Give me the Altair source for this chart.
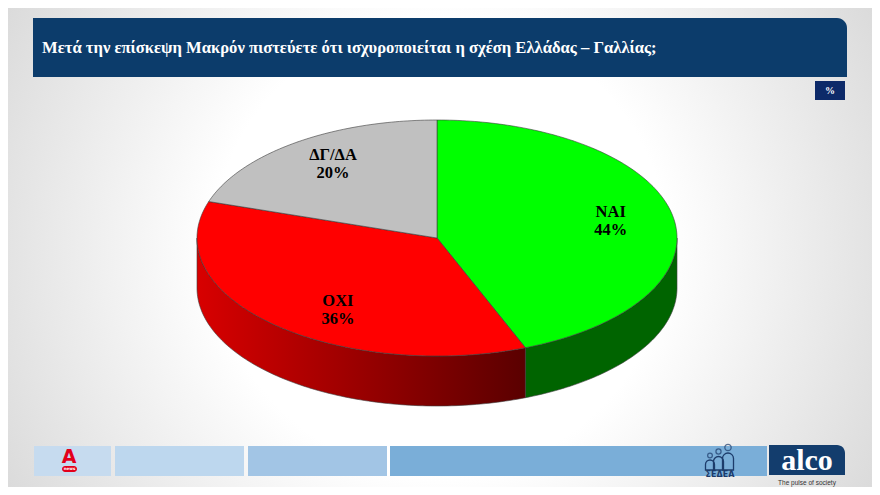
import math
import altair as alt
import pandas as pd

# ---------------- data ----------------
categories = ["ΝΑΙ", "ΟΧΙ", "ΔΓ/ΔΑ"]
values = [44, 36, 20]
top_colors = ["#00ff00", "#ff0000", "#c0c0c0"]
title_text = "Μετά την επίσκεψη Μακρόν πιστεύετε ότι ισχυροποιείται η σχέση Ελλάδας – Γαλλίας;"

# ---------------- geometry (pixels of the 880x495 slide) ----------------
CX, CY, RX, RY, DEPTH = 437, 238, 240, 118, 50
LRX, LRY = 0.737, 0.775          # label radius factors
LINE_H = 18
label_nudge = {"ΟΧΙ": (22, 5)}    # manual label placement as in the original
M = 8                              # page margin
W, H = 880 - 2 * M, 495 - 2 * M
XS = alt.Scale(domain=[M, 880 - M], nice=False, zero=False)
YS = alt.Scale(domain=[M, 495 - M], nice=False, zero=False, reverse=True)
STROKE = "#3c3c3c"


def ell(deg, dy=0.0):
    r = math.radians(deg)
    return CX + RX * math.sin(r), CY - RY * math.cos(r) + dy


def arc_pts(a0, a1, dy=0.0):
    n = max(2, int(abs(a1 - a0) / 1.0))
    return [ell(a0 + (a1 - a0) * j / n, dy) for j in range(n + 1)]


def poly_df(pts):
    return pd.DataFrame({"i": list(range(len(pts))),
                         "x": [p[0] for p in pts],
                         "y": [p[1] for p in pts]})


def poly_layer(pts, fill):
    return alt.Chart(poly_df(pts)).mark_line(
        fill=fill, stroke=STROKE, strokeWidth=0.6, strokeJoin="round"
    ).encode(
        x=alt.X("x:Q", scale=XS, axis=None),
        y=alt.Y("y:Q", scale=YS, axis=None),
        order=alt.Order("i:Q"),
    )


def px(v):
    return alt.value(v - M)


one = pd.DataFrame({"a": [0]})


def rect(x1, y1, x2, y2, fill, **kw):
    return alt.Chart(one).mark_rect(fill=fill, **kw).encode(
        x=px(x1), x2=px(x2), y=px(y1), y2=px(y2))


def text(x, y, t, **kw):
    return alt.Chart(one).mark_text(text=t, **kw).encode(x=px(x), y=px(y))


# ---------------- decorations ----------------
bg = alt.Chart(one).mark_rect(
    fill=alt.Gradient(gradient="radial",
                      stops=[alt.GradientStop(color="#ffffff", offset=0),
                             alt.GradientStop(color="#ffffff", offset=0.35),
                             alt.GradientStop(color="#c6c6c6", offset=1)],
                      x1=0.5, y1=0.5, r1=0, x2=0.5, y2=0.5, r2=0.75)
).encode(x=alt.value(0), x2=alt.value(W), y=alt.value(0), y2=alt.value(H))

banner = rect(33, 18, 847, 77, "#0c3c6b", cornerRadiusTopRight=10)
title = text(42, 47.5, title_text, font="Liberation Serif", fontWeight="bold",
             fontSize=16.6, color="white", align="left", baseline="middle")
pct_box = rect(815, 81, 845, 100, "#0d2a69")
pct_txt = text(830, 91, "%", font="Liberation Serif", fontWeight="bold",
               fontSize=10, color="white", align="center", baseline="middle")

NAVY_ICON = "#1d3c6b"
footer = [
    rect(34, 446, 111, 476, "#c6dbef"),
    rect(115, 446, 244, 476, "#bdd7ee"),
    rect(248, 446, 387, 476, "#a2c5e5"),
    rect(390, 446, 767, 476, "#7aaed8"),
    rect(769, 445, 845, 475, "#133d6d", cornerRadiusTopRight=8),
    # alpha logo
    text(69, 457, "Α", font="DejaVu Sans", fontWeight="bold", fontSize=19,
         color="#e3001b", align="center", baseline="middle"),
    rect(62, 466, 77, 472, "#e3001b", cornerRadius=3),
    text(69.5, 469.2, "news", font="DejaVu Sans", fontWeight="bold",
         fontSize=4, color="white", align="center", baseline="middle"),
    # ΣΕΔΕΑ logo
    text(720, 475, "ΣΕΔΕΑ", font="DejaVu Sans", fontWeight="bold", fontSize=8,
         color=NAVY_ICON, align="center", baseline="middle"),
    rect(705.5, 460, 714.5, 470, None, stroke=NAVY_ICON, strokeWidth=1.3,
         cornerRadiusTopLeft=4.5, cornerRadiusTopRight=4.5),
    rect(713.5, 456.5, 723.5, 470, None, stroke=NAVY_ICON, strokeWidth=1.3,
         cornerRadiusTopLeft=5, cornerRadiusTopRight=5),
    rect(722.5, 453, 733.5, 470, None, stroke=NAVY_ICON, strokeWidth=1.3,
         cornerRadiusTopLeft=5.5, cornerRadiusTopRight=5.5),
    # alco
    text(807, 470, "alco", font="Liberation Serif", fontWeight="bold",
         fontSize=30, color="white", align="center", baseline="alphabetic"),
    text(807, 483, "The pulse of society", font="Liberation Sans",
         fontSize=6.5, color="#333333", align="center", baseline="middle"),
]
heads = alt.Chart(pd.DataFrame({"hx": [710, 718.5, 728], "hy": [455.5, 451.5, 447.5],
                                "hs": [22, 26, 40]})
                  ).mark_point(shape="circle", filled=False, stroke=NAVY_ICON,
                               strokeWidth=1.3).encode(
    x=alt.X("hx:Q", scale=XS, axis=None), y=alt.Y("hy:Q", scale=YS, axis=None),
    size=alt.Size("hs:Q", scale=None, legend=None))

# ---------------- pie ----------------
total = float(sum(values))
sides, tops = [], []
side_fills = {
    "ΝΑΙ": "#006400",
    "ΟΧΙ": alt.Gradient(gradient="linear",
                        stops=[alt.GradientStop(color="#d80000", offset=0),
                               alt.GradientStop(color="#5a0000", offset=1)],
                        x1=0, y1=0, x2=1, y2=0),
}
start = 0.0
lab_rows = []
for cat, val, col in zip(categories, values, top_colors):
    a0 = start / total * 360
    a1 = (start + val) / total * 360
    tops.append(poly_layer([(CX, CY)] + arc_pts(a0, a1) + [(CX, CY)], col))
    s0, s1 = max(a0, 90), min(a1, 270)
    if s1 > s0:
        upper = arc_pts(s0, s1)
        lower = arc_pts(s1, s0, DEPTH)
        sides.append(poly_layer(upper + lower + [upper[0]], side_fills.get(cat, col)))
    mid = math.radians((a0 + a1) / 2)
    nx, ny = label_nudge.get(cat, (0, 0))
    lx = CX + LRX * RX * math.sin(mid) + nx
    ly = CY - LRY * RY * math.cos(mid) + ny - LINE_H / 2
    lab_rows.append({"lx": lx, "ly": ly, "label": f"{cat}\n{val}%"})
    start += val

pie_labels = alt.Chart(pd.DataFrame(lab_rows)).mark_text(
    font="Liberation Serif", fontWeight="bold", fontSize=16.5, lineBreak="\n",
    lineHeight=LINE_H, color="black", align="center", baseline="middle"
).encode(x=alt.X("lx:Q", scale=XS, axis=None), y=alt.Y("ly:Q", scale=YS, axis=None),
         text="label:N")

chart = alt.layer(
    bg, banner, title, pct_box, pct_txt, *footer, heads, *sides, *tops, pie_labels
).properties(
    width=W, height=H, padding=0,
    autosize=alt.AutoSizeParams(type="fit", contains="padding"),
).configure_view(stroke=None)

chart.save("out.html", embed_options={"renderer": "svg", "actions": False})
